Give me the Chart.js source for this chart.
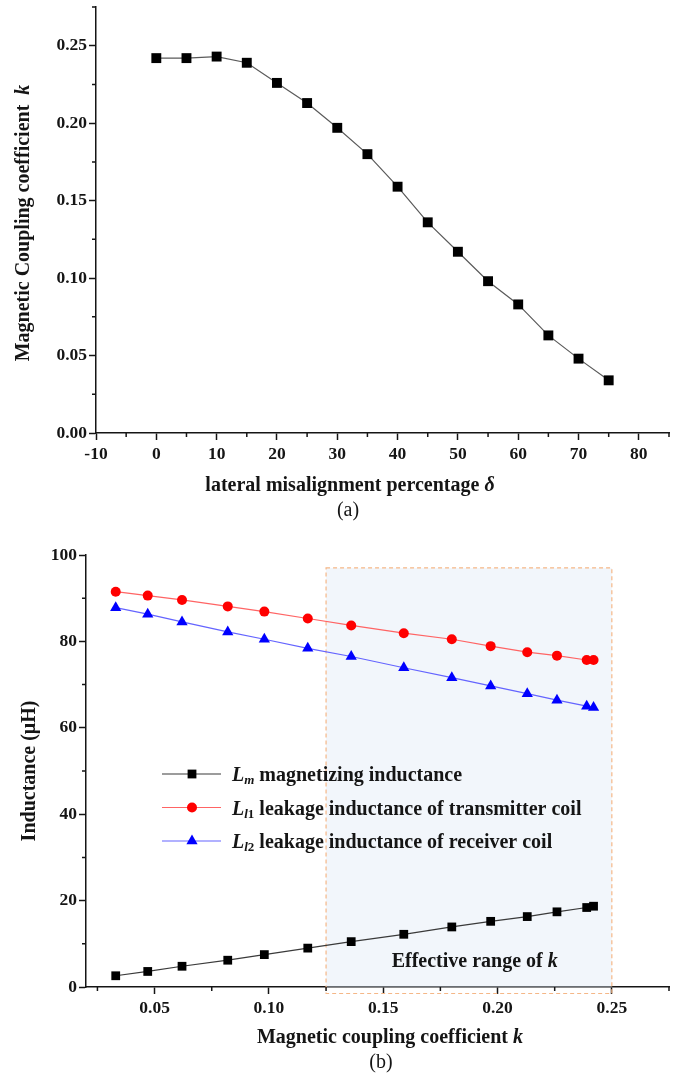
<!DOCTYPE html>
<html>
<head>
<meta charset="utf-8">
<script src="https://cdn.jsdelivr.net/npm/chart.js@4/dist/chart.umd.min.js"></script>
<style>
    html, body { margin: 0; padding: 0; background: #fff; }
    #wrapA { position: absolute; left: 0; top: 0; width: 686px; height: 525px; }
    #wrapB { position: absolute; left: 0; top: 530px; width: 686px; height: 549px; }
</style>
</head>
<body>
<div id="wrapA"><canvas id="chartA"></canvas></div>
<div id="wrapB"><canvas id="chartB"></canvas></div>
<script>
// (a) coupling coefficient vs lateral misalignment
const misalign = [0, 5, 10, 15, 20, 25, 30, 35, 40, 45, 50, 55, 60, 65, 70, 75];
const couplingK = [0.242, 0.242, 0.243, 0.239, 0.226, 0.213, 0.197, 0.180, 0.159, 0.136, 0.117, 0.098, 0.083, 0.063, 0.048, 0.034];
const aXTicks = [-10, 0, 10, 20, 30, 40, 50, 60, 70, 80];
const aXMinor = [-5, 5, 15, 25, 35, 45, 55, 65, 75, 85];
const aYTicks = [0, 0.05, 0.10, 0.15, 0.20, 0.25];
const aYMinor = [0.025, 0.075, 0.125, 0.175, 0.225, 0.275];

// (b) inductances vs coupling coefficient
const kValues = [0.033, 0.047, 0.062, 0.082, 0.098, 0.117, 0.136, 0.159, 0.180, 0.197, 0.213, 0.226, 0.239, 0.242];
const lmValues = [2.6, 3.6, 4.8, 6.2, 7.5, 9.0, 10.5, 12.2, 13.9, 15.2, 16.3, 17.4, 18.4, 18.7];
const ll1Values = [91.5, 90.6, 89.6, 88.1, 86.9, 85.3, 83.7, 81.9, 80.5, 78.9, 77.5, 76.7, 75.7, 75.7];
const ll2Values = [87.8, 86.3, 84.5, 82.2, 80.5, 78.4, 76.5, 73.9, 71.6, 69.7, 67.9, 66.4, 65.0, 64.7];
const bXTicks = [0.05, 0.10, 0.15, 0.20, 0.25];
const bXMinor = [0.025, 0.075, 0.125, 0.175, 0.225, 0.275];
const bYTicks = [0, 20, 40, 60, 80, 100];
const bYMinor = [10, 30, 50, 70, 90];
const effRangeK = [0.125, 0.25];     // shaded "effective range"
const effRangeY = [-1.5, 97];

const SERIF = '"Liberation Serif", "Times New Roman", serif';
const B = s => 'bold ' + s + 'px ' + SERIF;
const BI = s => 'italic bold ' + s + 'px ' + SERIF;
const INK = '#151515';

// draw a run of text pieces (mixed fonts) at x,y (baseline)
function drawRich(ctx, parts, x, y, rot, align) {
    ctx.save();
    ctx.translate(x, y);
    if (rot) ctx.rotate(rot);
    ctx.textBaseline = 'alphabetic';
    ctx.textAlign = 'left';
    ctx.fillStyle = INK;
    let total = 0;
    parts.forEach(p => { ctx.font = p.font; p.w = ctx.measureText(p.text).width; total += p.w; });
    let cx = align === 'left' ? 0 : -total / 2;
    parts.forEach(p => {
        ctx.font = p.font;
        ctx.fillText(p.text, cx, p.dy || 0);
        cx += p.w;
    });
    ctx.restore();
}

function minorTicks(xVals, yVals) {
    return {
        id: 'minorTicks',
        afterDraw(chart) {
            const ctx = chart.ctx, xs = chart.scales.x, ys = chart.scales.y, a = chart.chartArea;
            ctx.save();
            ctx.strokeStyle = INK;
            ctx.lineWidth = 1.5;
            ctx.beginPath();
            xVals.forEach(v => {
                const px = xs.getPixelForValue(v);
                ctx.moveTo(px, a.bottom); ctx.lineTo(px, a.bottom + 4);
            });
            yVals.forEach(v => {
                const py = ys.getPixelForValue(v);
                ctx.moveTo(a.left, py); ctx.lineTo(a.left - 4, py);
            });
            ctx.stroke();
            ctx.restore();
        }
    };
}

function axisScale(min, max, ticks, fmt, isX, fixedSize) {
    return {
        type: 'linear',
        min: min,
        max: max,
        afterBuildTicks: s => { s.ticks = ticks.map(v => ({ value: v })); },
        afterFit: s => {
            if (isX) { s.height = fixedSize; s.paddingLeft = 0; s.paddingRight = 0; }
            else { s.width = fixedSize; s.paddingTop = 0; s.paddingBottom = 0; }
        },
        grid: { display: true, drawOnChartArea: false, drawTicks: true, tickLength: 7, tickWidth: 1.5, tickColor: INK },
        border: { display: true, color: INK, width: 1.5 },
        ticks: {
            color: INK,
            padding: isX ? 4 : 2,
            maxRotation: 0,
            autoSkip: false,
            font: { family: SERIF, size: 17.5, weight: 'bold' },
            callback: fmt
        }
    };
}

// ---------- chart (a) ----------
new Chart(document.getElementById('chartA'), {
    type: 'line',
    data: {
        datasets: [{
            data: misalign.map((x, i) => ({ x: x, y: couplingK[i] })),
            borderColor: '#5a5a5a',
            borderWidth: 1.2,
            pointStyle: 'rect',
            pointRadius: 7,
            pointBackgroundColor: '#000',
            pointBorderColor: '#000',
            pointBorderWidth: 0,
            tension: 0
        }]
    },
    options: {
        responsive: true,
        maintainAspectRatio: false,
        animation: false,
        layout: { padding: { left: 0, top: 5, right: 17, bottom: 0 } },
        plugins: { legend: { display: false }, tooltip: { enabled: false } },
        scales: {
            x: axisScale(-10, 85, aXTicks, v => String(v), true, 92),
            y: axisScale(0, 0.275, aYTicks, v => v.toFixed(2), false, 96)
        }
    },
    plugins: [minorTicks(aXMinor, aYMinor), {
        id: 'titlesA',
        afterDraw(chart) {
            const ctx = chart.ctx, a = chart.chartArea;
            drawRich(ctx, [{ text: 'Magnetic Coupling coefficient  ', font: B(20) }, { text: 'k', font: BI(20) }],
                29, (a.top + a.bottom) / 2 + 3, -Math.PI / 2);
            drawRich(ctx, [{ text: 'lateral misalignment percentage ', font: B(20) }, { text: 'δ', font: BI(20) }],
                350, a.bottom + 58);
            drawRich(ctx, [{ text: '(a)', font: '20px ' + SERIF }], 348, a.bottom + 83);
        }
    }]
});

// ---------- chart (b) ----------
new Chart(document.getElementById('chartB'), {
    type: 'line',
    data: {
        datasets: [
            {
                label: 'Lm',
                data: kValues.map((k, i) => ({ x: k, y: lmValues[i] })),
                borderColor: '#3a3a3a',
                borderWidth: 1.2,
                pointStyle: 'rect',
                pointRadius: 6.2,
                pointBackgroundColor: '#000',
                pointBorderColor: '#000',
                pointBorderWidth: 0,
                tension: 0
            },
            {
                label: 'Ll1',
                data: kValues.map((k, i) => ({ x: k, y: ll1Values[i] })),
                borderColor: '#ff6464',
                borderWidth: 1.2,
                pointStyle: 'circle',
                pointRadius: 5,
                pointBackgroundColor: '#ff0000',
                pointBorderColor: '#ff0000',
                pointBorderWidth: 0,
                tension: 0
            },
            {
                label: 'Ll2',
                data: kValues.map((k, i) => ({ x: k, y: ll2Values[i] })),
                borderColor: '#6464ff',
                borderWidth: 1.2,
                pointStyle: 'triangle',
                pointRadius: 6.5,
                pointBackgroundColor: '#0000ff',
                pointBorderColor: '#0000ff',
                pointBorderWidth: 0,
                tension: 0
            }
        ]
    },
    options: {
        responsive: true,
        maintainAspectRatio: false,
        animation: false,
        layout: { padding: { left: 0, top: 25, right: 17, bottom: 0 } },
        plugins: { legend: { display: false }, tooltip: { enabled: false } },
        scales: {
            x: axisScale(0.02, 0.275, bXTicks, v => v.toFixed(2), true, 92),
            y: axisScale(0, 100, bYTicks, v => String(v), false, 86)
        }
    },
    plugins: [minorTicks(bXMinor, bYMinor), {
        id: 'effRange',
        beforeDatasetsDraw(chart) {
            const ctx = chart.ctx, xs = chart.scales.x, ys = chart.scales.y, a = chart.chartArea;
            const x0 = xs.getPixelForValue(effRangeK[0]), x1 = xs.getPixelForValue(effRangeK[1]);
            const yT = ys.getPixelForValue(effRangeY[1]), yB = ys.getPixelForValue(effRangeY[0]);
            ctx.save();
            ctx.fillStyle = 'rgba(225, 234, 246, 0.42)';
            ctx.fillRect(x0, yT, x1 - x0, a.bottom - yT);
            ctx.setLineDash([4, 3]);
            ctx.strokeStyle = '#f5b787';
            ctx.lineWidth = 1.2;
            ctx.strokeRect(x0, yT, x1 - x0, yB - yT);
            ctx.restore();
        },
        afterDraw(chart) {
            const ctx = chart.ctx, a = chart.chartArea, xs = chart.scales.x, ys = chart.scales.y;
            drawRich(ctx, [{ text: 'Inductance (μH)', font: B(20) }], 35, (a.top + a.bottom) / 2, -Math.PI / 2);
            drawRich(ctx, [{ text: 'Magnetic coupling coefficient ', font: B(20) }, { text: 'k', font: BI(20) }],
                390, a.bottom + 56);
            drawRich(ctx, [{ text: '(b)', font: '20px ' + SERIF }], 381, a.bottom + 81);
            drawRich(ctx, [{ text: 'Effective range of ', font: B(20) }, { text: 'k', font: BI(20) }],
                xs.getPixelForValue(0.19), ys.getPixelForValue(6.2) + 7);

            // legend with subscripts
            const rows = [
                { color: '#3a3a3a', fill: '#000', shape: 'rect', sub: [{ t: 'm', f: BI(13) }], text: ' magnetizing inductance' },
                { color: '#ff6464', fill: '#ff0000', shape: 'circle', sub: [{ t: 'l', f: BI(13) }, { t: '1', f: B(13) }], text: ' leakage inductance of transmitter coil' },
                { color: '#6464ff', fill: '#0000ff', shape: 'triangle', sub: [{ t: 'l', f: BI(13) }, { t: '2', f: B(13) }], text: ' leakage inductance of receiver coil' }
            ];
            const lx = a.left + 76, ly = a.top + 219;
            rows.forEach((r, i) => {
                const y = ly + i * 33.5;
                ctx.save();
                ctx.strokeStyle = r.color;
                ctx.lineWidth = 1.2;
                ctx.beginPath(); ctx.moveTo(lx, y); ctx.lineTo(lx + 59, y); ctx.stroke();
                ctx.fillStyle = r.fill;
                const mx = lx + 30;
                ctx.beginPath();
                if (r.shape === 'rect') ctx.rect(mx - 4.4, y - 4.4, 8.8, 8.8);
                else if (r.shape === 'circle') ctx.arc(mx, y, 5, 0, Math.PI * 2);
                else { ctx.moveTo(mx, y - 6.5); ctx.lineTo(mx + 5.6, y + 3.25); ctx.lineTo(mx - 5.6, y + 3.25); ctx.closePath(); }
                ctx.fill();
                ctx.restore();
                const parts = [{ text: 'L', font: BI(20) }];
                r.sub.forEach(s => parts.push({ text: s.t, font: s.f, dy: 3 }));
                parts.push({ text: r.text, font: B(20) });
                drawRich(ctx, parts, lx + 70, y + 7, 0, 'left');
            });
        }
    }]
});
</script>
</body>
</html>
